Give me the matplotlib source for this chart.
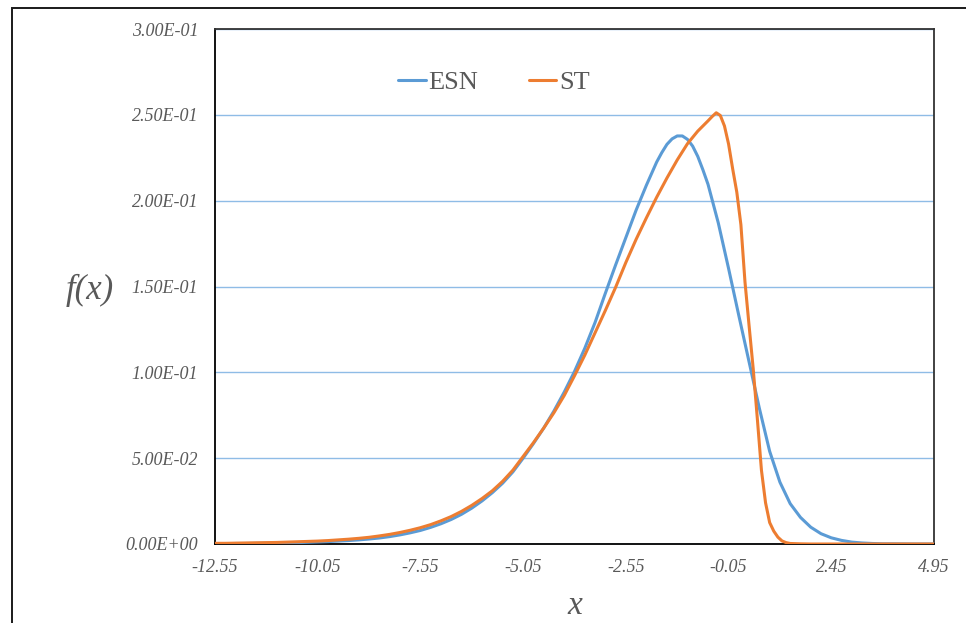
import matplotlib
matplotlib.use("Agg")
import matplotlib.pyplot as plt
from matplotlib.patches import Rectangle

# values
esn_x = [-12.55, -12.30, -12.05, -11.80, -11.55, -11.30, -11.05, -10.80, -10.55, -10.30,
         -10.05, -9.80, -9.55, -9.30, -9.05, -8.80, -8.55, -8.30, -8.05, -7.80,
         -7.55, -7.30, -7.05, -6.80, -6.55, -6.30, -6.05, -5.80, -5.55, -5.30,
         -5.05, -4.80, -4.55, -4.30, -4.05, -3.80, -3.55, -3.30, -3.05, -2.80,
         -2.55, -2.30, -2.05, -1.80, -1.675, -1.55, -1.425, -1.30, -1.175, -1.05,
         -0.925, -0.80, -0.675, -0.55, -0.30, -0.05, 0.20, 0.45, 0.70, 0.95,
         1.20, 1.45, 1.70, 1.95, 2.20, 2.45, 2.70, 2.95, 3.20, 3.45,
         3.70, 3.95, 4.45, 4.95]
esn_y = [0.0002, 0.0002, 0.0003, 0.0003, 0.0004, 0.0005, 0.0006, 0.0007, 0.0008, 0.0010,
         0.0012, 0.0014, 0.0017, 0.0020, 0.0024, 0.0029, 0.0035, 0.0043, 0.0053, 0.0065,
         0.0079, 0.0097, 0.0118, 0.0143, 0.0173, 0.0209, 0.0251, 0.0299, 0.0354, 0.0420,
         0.0500, 0.0585, 0.0675, 0.0775, 0.0885, 0.1005, 0.1140, 0.1290, 0.1460, 0.1625,
         0.1785, 0.1945, 0.2090, 0.2225, 0.2280, 0.2328, 0.2360, 0.2377, 0.2377, 0.2357,
         0.2318, 0.2258, 0.2180, 0.2095, 0.1870, 0.1605, 0.1330, 0.1060, 0.0790, 0.0540,
         0.0360, 0.0235, 0.0155, 0.0098, 0.0060, 0.0036, 0.0021, 0.0011, 0.0006, 0.0003,
         0.0001, 0.0001, 0.0000, 0.0000]

st_x = [-12.55, -12.30, -12.05, -11.80, -11.55, -11.30, -11.05, -10.80, -10.55, -10.30,
        -10.05, -9.80, -9.55, -9.30, -9.05, -8.80, -8.55, -8.30, -8.05, -7.80,
        -7.55, -7.30, -7.05, -6.80, -6.55, -6.30, -6.05, -5.80, -5.55, -5.30,
        -5.05, -4.80, -4.55, -4.30, -4.05, -3.80, -3.55, -3.30, -3.05, -2.80,
        -2.55, -2.30, -2.05, -1.80, -1.55, -1.30, -1.05, -0.80, -0.55, -0.45,
        -0.35, -0.25, -0.15, -0.05, 0.05, 0.15, 0.25, 0.35, 0.45, 0.55,
        0.65, 0.75, 0.85, 0.95, 1.05, 1.15, 1.25, 1.35, 1.45, 1.70,
        1.95, 2.45, 3.45, 4.95]
st_y = [0.0004, 0.0004, 0.0005, 0.0006, 0.0007, 0.0008, 0.0009, 0.0011, 0.0013, 0.0015,
        0.0017, 0.0020, 0.0024, 0.0028, 0.0033, 0.0039, 0.0047, 0.0056, 0.0067, 0.0080,
        0.0095, 0.0113, 0.0135, 0.0160, 0.0190, 0.0225, 0.0265, 0.0310, 0.0365, 0.0430,
        0.0510, 0.0590, 0.0675, 0.0765, 0.0865, 0.0980, 0.1100, 0.1230, 0.1360, 0.1495,
        0.1640, 0.1775, 0.1900, 0.2020, 0.2132, 0.2237, 0.2332, 0.2405, 0.2465, 0.2490,
        0.2512, 0.2496, 0.2435, 0.2330, 0.2185, 0.2050, 0.1860, 0.1525, 0.1270, 0.1020,
        0.0730, 0.0430, 0.0240, 0.0125, 0.0075, 0.0040, 0.0018, 0.0008, 0.0003, 0.0001,
        0.0000, 0.0000, 0.0000, 0.0000]

x_ticks = [-12.55, -10.05, -7.55, -5.05, -2.55, -0.05, 2.45, 4.95]
x_labels = ["-12.55", "-10.05", "-7.55", "-5.05", "-2.55", "-0.05", "2.45", "4.95"]
y_ticks = [0.0, 0.05, 0.10, 0.15, 0.20, 0.25, 0.30]
y_labels = ["0.00E+00", "5.00E-02", "1.00E-01", "1.50E-01", "2.00E-01", "2.50E-01", "3.00E-01"]

serif = "Liberation Serif"
gray = "#595959"

fig = plt.figure(figsize=(9.66, 6.23), dpi=100)
ax = fig.add_axes([215 / 966, 79 / 623, 719 / 966, 515 / 623])

# outer chart border
fig.patches.append(Rectangle((12 / 966, -0.1), 1.0, 1.1 - 8 / 623, transform=fig.transFigure,
                             fill=False, edgecolor="#1a1a1a", linewidth=1.4))

ax.plot(esn_x, esn_y, color="#5B9BD5", linewidth=2.2, label="ESN", zorder=3,
        solid_joinstyle="round", solid_capstyle="round")
ax.plot(st_x, st_y, color="#ED7D31", linewidth=2.2, label="ST", zorder=4,
        solid_joinstyle="round", solid_capstyle="round")

ax.set_xlim(-12.55, 4.95)
ax.set_ylim(0, 0.3)
ax.set_xticks(x_ticks)
ax.set_xticklabels(x_labels, fontfamily=serif, style="italic", fontsize=13, color=gray)
ax.set_yticks(y_ticks)
ax.set_yticklabels(y_labels, fontfamily=serif, style="italic", fontsize=13, color=gray)
ax.tick_params(axis="both", length=0)
ax.tick_params(axis="x", pad=11)
ax.tick_params(axis="y", pad=12)

ax.yaxis.grid(True, color="#8FBCE6", linewidth=1.0)
ax.set_axisbelow(True)

for s in ax.spines.values():
    s.set_color("#333333")
    s.set_linewidth(1.3)
ax.spines["left"].set_color("black")
ax.spines["bottom"].set_color("black")

ax.set_xlabel("x", fontfamily=serif, style="italic", fontsize=24, color=gray, labelpad=10)
fig.text(90 / 966, 1 - 290 / 623, "f(x)", fontfamily=serif, style="italic", fontsize=25,
         color=gray, ha="center", va="center")

leg = ax.legend(loc="center", bbox_to_anchor=(0.388, 0.897), ncol=2, frameon=False,
                prop={"family": serif, "size": 19}, handlelength=1.05, handletextpad=0.1,
                columnspacing=1.9)
for t in leg.get_texts():
    t.set_color(gray)

fig.savefig("out.png", dpi=100)
